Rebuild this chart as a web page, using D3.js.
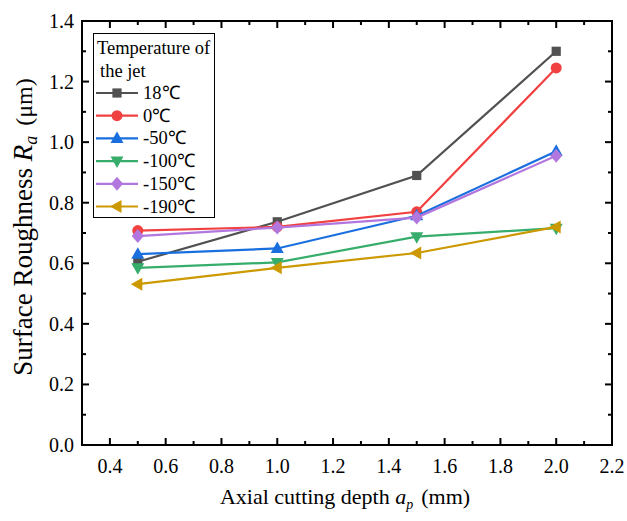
<!DOCTYPE html>
<html>
<head>
<meta charset="utf-8">
<script src="https://cdn.jsdelivr.net/npm/d3@7"></script>
<style>
  body { margin: 0; background: #fff; }
  svg text { font-family: "Liberation Serif", "Times New Roman", serif; }
</style>
</head>
<body>
<div id="chart"></div>
<script>
var depths = [0.5, 1.0, 1.5, 2.0];
var seriesNames = ["18\u2103", "0\u2103", "-50\u2103", "-100\u2103", "-150\u2103", "-190\u2103"];
var ra18 = [0.605, 0.737, 0.89, 1.30];
var ra0 = [0.708, 0.72, 0.77, 1.245];
var raM50 = [0.630, 0.649, 0.757, 0.97];
var raM100 = [0.585, 0.603, 0.688, 0.716];
var raM150 = [0.690, 0.718, 0.751, 0.955];
var raM190 = [0.531, 0.585, 0.634, 0.72];
var xTicks = [0.4, 0.6, 0.8, 1.0, 1.2, 1.4, 1.6, 1.8, 2.0, 2.2];
var yTicks = [0.0, 0.2, 0.4, 0.6, 0.8, 1.0, 1.2, 1.4];

var colors = ["#515151", "#F14040", "#1A6FDF", "#37AD6B", "#B177DE", "#CC9900"];
var symbols = ["square", "circle", "up", "down", "diamond", "left"];
var allValues = [ra18, ra0, raM50, raM100, raM150, raM190];

var width = 627, height = 521;
var pLeft = 82, pRight = 612, pTop = 21, pBottom = 445;

var svg = d3.select("#chart").append("svg")
    .attr("width", width)
    .attr("height", height);

var x = d3.scaleLinear().domain([0.3, 2.2]).range([pLeft, pRight]);
var y = d3.scaleLinear().domain([0, 1.4]).range([pBottom, pTop]);

// minor ticks halfway between the major ones
var xMinor = d3.range(3, 22, 2).map(d => d / 10);
var yMinor = d3.range(1, 14, 2).map(d => d / 10);

function tickMarks(g, ticks, len, pos, horizontal) {
    g.selectAll(null).data(ticks).enter().append("line")
        .attr("x1", d => horizontal ? x(d) : pos)
        .attr("x2", d => horizontal ? x(d) : pos + len)
        .attr("y1", d => horizontal ? pos : y(d))
        .attr("y2", d => horizontal ? pos + len : y(d))
        .attr("stroke", "#000")
        .attr("stroke-width", 2);
}

var axes = svg.append("g");
tickMarks(axes, xTicks, -7, pBottom, true);
tickMarks(axes, xMinor, -4, pBottom, true);
tickMarks(axes, xTicks, 7, pTop, true);
tickMarks(axes, xMinor, 4, pTop, true);
tickMarks(axes, yTicks, 7, pLeft, false);
tickMarks(axes, yMinor, 4, pLeft, false);
tickMarks(axes, yTicks, -7, pRight, false);
tickMarks(axes, yMinor, -4, pRight, false);

axes.append("rect")
    .attr("x", pLeft).attr("y", pTop)
    .attr("width", pRight - pLeft).attr("height", pBottom - pTop)
    .attr("fill", "none").attr("stroke", "#000").attr("stroke-width", 2);

axes.selectAll(null).data(xTicks).enter().append("text")
    .attr("x", d => x(d)).attr("y", pBottom + 28)
    .attr("text-anchor", "middle")
    .attr("font-size", 20)
    .text(d => d3.format(".1f")(d));

axes.selectAll(null).data(yTicks).enter().append("text")
    .attr("x", pLeft - 8).attr("y", d => y(d) + 7)
    .attr("text-anchor", "end")
    .attr("font-size", 20)
    .text(d => d3.format(".1f")(d));

// axis titles
var xt = svg.append("text")
    .attr("x", 345).attr("y", 504)
    .attr("text-anchor", "middle")
    .attr("font-size", 22);
xt.append("tspan").text("Axial cutting depth ");
xt.append("tspan").attr("font-style", "italic").text("a");
xt.append("tspan").attr("font-style", "italic").attr("font-size", 14).attr("dy", 5).text("p");
xt.append("tspan").attr("dy", -5).attr("dx", 8).text("(mm)");

var yt = svg.append("text")
    .attr("transform", "translate(32,227) rotate(-90)")
    .attr("text-anchor", "middle")
    .attr("font-size", 27);
yt.append("tspan").text("Surface Roughness ");
yt.append("tspan").attr("font-style", "italic").text("R");
yt.append("tspan").attr("font-style", "italic").attr("font-size", 18).attr("dy", 5).text("a");
yt.append("tspan").attr("dy", -5).attr("dx", 10).attr("font-size", 24).text("(\u03BCm)");

function markerPath(kind) {
    if (kind === "square") return d3.symbol(d3.symbolSquare, 85)();
    if (kind === "circle") return d3.symbol(d3.symbolCircle, 95)();
    if (kind === "diamond") return "M0,-7L6,0L0,7L-6,0Z";
    if (kind === "up") return "M0,-7L6.5,4.5L-6.5,4.5Z";
    if (kind === "down") return "M0,7L6.5,-4.5L-6.5,-4.5Z";
    if (kind === "left") return "M-7,0L4.5,-6.5L4.5,6.5Z";
    return "";
}

var line = d3.line()
    .x((d, i) => x(depths[i]))
    .y(d => y(d));

var plot = svg.append("g");
allValues.forEach(function(vals, k) {
    var g = plot.append("g");
    g.append("path")
        .datum(vals)
        .attr("fill", "none")
        .attr("stroke", colors[k])
        .attr("stroke-width", 2.2)
        .attr("d", line);
    g.selectAll(null).data(vals).enter().append("path")
        .attr("transform", (d, i) => "translate(" + x(depths[i]) + "," + y(d) + ")")
        .attr("d", markerPath(symbols[k]))
        .attr("fill", colors[k]);
});

// legend
var lg = svg.append("g");
lg.append("rect")
    .attr("x", 93.5).attr("y", 33.5)
    .attr("width", 121).attr("height", 184)
    .attr("fill", "#fff").attr("stroke", "#000").attr("stroke-width", 1);
lg.append("text").attr("x", 97).attr("y", 54).attr("font-size", 18.5).text("Temperature of");
lg.append("text").attr("x", 100).attr("y", 77).attr("font-size", 18.5).text("the jet");
seriesNames.forEach(function(name, k) {
    var ly = 93 + k * 22.7;
    lg.append("line")
        .attr("x1", 96).attr("x2", 138)
        .attr("y1", ly).attr("y2", ly)
        .attr("stroke", colors[k]).attr("stroke-width", 2.2);
    lg.append("path")
        .attr("transform", "translate(117," + ly + ")")
        .attr("d", markerPath(symbols[k]))
        .attr("fill", colors[k]);
    lg.append("text")
        .attr("x", 143).attr("y", ly + 6)
        .attr("font-size", 18.5)
        .text(name);
});
</script>
</body>
</html>
